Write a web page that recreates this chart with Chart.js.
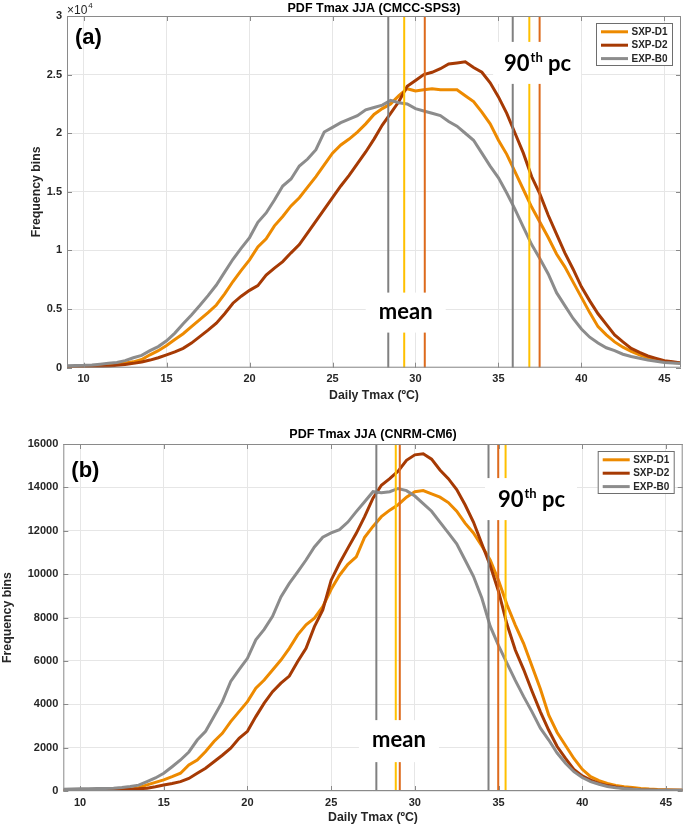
<!DOCTYPE html>
<html>
<head>
<meta charset="utf-8">
<script src="https://cdn.jsdelivr.net/npm/chart.js@4"></script>
<style>
  html, body { margin: 0; padding: 0; background: #fff; }
  #wrap { position: relative; width: 685px; height: 827px; }
  .panel { position: absolute; left: 0; width: 685px; }
  #panelA { top: 0; height: 403px; }
  #panelB { top: 403px; height: 424px; }
</style>
</head>
<body>
<div id="wrap">
  <div class="panel" id="panelA"><canvas id="chartA"></canvas></div>
  <div class="panel" id="panelB"><canvas id="chartB"></canvas></div>
</div>
<script>
// temperature bins (ºC)
const bins = [
  9, 9.5, 10, 10.5, 11, 11.5, 12, 12.5, 13, 13.5,
  14, 14.5, 15, 15.5, 16, 16.5, 17, 17.5, 18, 18.5,
  19, 19.5, 20, 20.5, 21, 21.5, 22, 22.5, 23, 23.5,
  24, 24.5, 25, 25.5, 26, 26.5, 27, 27.5, 28, 28.5,
  29, 29.5, 30, 30.5, 31, 31.5, 32, 32.5, 33, 33.5,
  34, 34.5, 35, 35.5, 36, 36.5, 37, 37.5, 38, 38.5,
  39, 39.5, 40, 40.5, 41, 41.5, 42, 42.5, 43, 43.5,
  44, 44.5, 45, 45.5, 46
];

// (a) CMCC-SPS3
const d1A = [
  50, 60, 80, 120, 170, 230, 300, 400, 500, 700,
  1100, 1450, 1900, 2400, 2900, 3500, 4100, 4700, 5350, 6300,
  7350, 8300, 9200, 10300, 11000, 12100, 12900, 13800, 14500, 15400,
  16300, 17300, 18300, 19000, 19500, 20100, 20800, 21600, 22100, 22500,
  23200, 23800, 23600, 23700, 23800, 23700, 23700, 23700, 23200, 22700,
  21800, 20800, 19400, 18200, 16700, 15200, 13700, 12400, 11100, 9700,
  8600, 7300, 6000, 4700, 3500, 2800, 2200, 1750, 1400, 1100,
  850, 700, 550, 450, 400
];
const d2A = [
  20, 30, 40, 60, 90, 130, 200, 280, 370, 480,
  650, 850, 1100, 1350, 1650, 2100, 2650, 3200, 3800, 4600,
  5500, 6100, 6600, 7000, 7900, 8500, 9050, 9800, 10500, 11500,
  12500, 13500, 14500, 15500, 16400, 17400, 18400, 19500, 20700, 21700,
  22700, 24000, 24500, 25000, 25200, 25500, 25900, 26000, 26100, 25600,
  25200, 24300, 23100, 21700, 20000, 18300, 16300, 14800, 13000, 11400,
  9800, 8400, 6900, 5700, 4600, 3700, 2800, 2200, 1650, 1300,
  1000, 800, 600, 500, 400
];
const b0A = [
  170, 180, 200, 240, 300, 370, 450, 600, 850, 1050,
  1450, 1800, 2300, 2950, 3750, 4500, 5300, 6150, 7050, 8150,
  9250, 10200, 11100, 12400, 13200, 14300, 15500, 16100, 17200, 17800,
  18600, 20100, 20500, 20900, 21200, 21500, 22000, 22200, 22400, 22800,
  22600, 22500, 22100, 21900, 21700, 21500, 21000, 20600, 20000, 19400,
  18300, 17200, 16200, 14900, 13500, 12000, 10500, 9300, 8000, 6400,
  5300, 4200, 3300, 2600, 2100, 1700, 1450, 1150, 950, 800,
  650, 550, 450, 400, 350
];
const meanA = [29.32, 30.56, 28.36];   // SXP-D1, SXP-D2, EXP-B0
const p90A = [36.86, 37.48, 35.86];

// (b) CNRM-CM6
const d1B = [
  20, 20, 20, 20, 20, 30, 40, 50, 70, 150,
  280, 400, 510, 660, 820, 1200, 1430, 1820, 2280, 2660,
  3200, 3660, 4120, 4740, 5120, 5580, 6040, 6580, 7200, 7660,
  7970, 8500, 9300, 9950, 10450, 10800, 11700, 12200, 12650, 12950,
  13200, 13550, 13800, 13850, 13700, 13550, 13300, 12900, 12350, 11900,
  11300, 10650, 9700, 8600, 7650, 6800, 5750, 4700, 3500, 2700,
  2100, 1500, 1000, 660, 480, 350, 260, 200, 160, 120,
  90, 70, 60, 50, 40
];
const d2B = [
  0, 0, 0, 10, 20, 30, 40, 60, 80, 100,
  130, 200, 280, 350, 430, 580, 820, 1050, 1350, 1650,
  1970, 2430, 2750, 3430, 4050, 4580, 4970, 5300, 5970, 6580,
  7580, 8350, 9720, 10500, 11200, 11880, 12650, 13500, 14100, 14400,
  14750, 15250, 15500, 15550, 15300, 14800, 14400, 13900, 13200, 12400,
  11400, 10400, 9200, 7700, 6500, 5600, 4600, 3650, 2800, 2050,
  1500, 1000, 700, 500, 350, 250, 180, 130, 90, 60,
  50, 40, 40, 40, 40
];
const b0B = [
  80, 90, 100, 100, 110, 120, 130, 160, 210, 270,
  430, 600, 820, 1120, 1430, 1800, 2350, 2750, 3430, 4120,
  5050, 5600, 6120, 6970, 7450, 8050, 8950, 9570, 10100, 10650,
  11250, 11700, 11900, 12050, 12400, 12880, 13340, 13800, 13750, 13800,
  13950, 13850, 13600, 13250, 12900, 12400, 11900, 11400, 10650, 9900,
  8900, 7600, 6700, 5900, 5100, 4350, 3650, 2900, 2350, 1750,
  1280, 890, 620, 430, 310, 210, 150, 110, 80, 60,
  50, 40, 40, 40, 40
];
const meanB = [28.86, 29.1, 27.7];
const p90B = [35.42, 34.98, 34.4];

const xTicks = [10, 15, 20, 25, 30, 35, 40, 45];
const yTicksA = [0, 5000, 10000, 15000, 20000, 25000, 30000];
const yTicksB = [0, 2000, 4000, 6000, 8000, 10000, 12000, 14000, 16000];

const seriesNames = ["SXP-D1", "SXP-D2", "EXP-B0"];
const curveColors = ["#ED8A00", "#A63A04", "#8C8C8C"];
const vlineColors = ["#FFC000", "#DD6A1C", "#808080"];

const sansFamily = "'Liberation Sans', Arial, sans-serif";
const tickFont = { family: sansFamily, size: 11, weight: "bold" };
const labelFont = { family: sansFamily, size: 12.3, weight: "bold" };
const frameColor = "#8a8a8a";
const textColor = "#262626";

// draws threshold lines, label boxes, legend and axes frame
const decor = {
    id: "decor",
    afterDatasetsDraw(chart, args, o) {
        const { ctx, chartArea: a } = chart;
        const x = chart.scales.x, y = chart.scales.y;
        ctx.save();

        ctx.save();
        ctx.beginPath();
        ctx.rect(a.left, a.top, a.right - a.left, a.bottom - a.top);
        ctx.clip();
        ctx.lineWidth = 2;
        [o.means, o.p90s].forEach(vals => vals.forEach((v, i) => {
            const px = x.getPixelForValue(v);
            ctx.strokeStyle = vlineColors[i];
            ctx.beginPath();
            ctx.moveTo(px, a.top);
            ctx.lineTo(px, a.bottom);
            ctx.stroke();
        }));

        // white label boxes
        o.labels.forEach(l => {
            const cx = x.getPixelForValue(l.x), cy = y.getPixelForValue(l.y);
            ctx.fillStyle = "#fff";
            ctx.fillRect(cx - l.w / 2, cy - l.h / 2, l.w, l.h);
            ctx.fillStyle = "#000";
            ctx.textBaseline = "alphabetic";
            const big = "bold 22px Lato, 'Open Sans', sans-serif";
            const small = "bold 13px Lato, 'Open Sans', sans-serif";
            if (l.sup) {
                ctx.font = big;
                const w1 = ctx.measureText(l.text).width;
                const w3 = ctx.measureText(l.after).width;
                ctx.font = small;
                const w2 = ctx.measureText(l.sup).width;
                const sx = cx - (w1 + w2 + w3) / 2;
                const base = cy + 8;
                ctx.font = big;
                ctx.textAlign = "left";
                ctx.fillText(l.text, sx, base);
                ctx.font = small;
                ctx.fillText(l.sup, sx + w1 + 1, base - 9);
                ctx.font = big;
                ctx.fillText(l.after, sx + w1 + w2 + 1, base);
            } else {
                ctx.font = big;
                ctx.textAlign = "center";
                ctx.fillText(l.text, cx, cy + 6);
            }
        });
        ctx.restore();

        // frame and inward ticks
        ctx.strokeStyle = frameColor;
        ctx.lineWidth = 1;
        ctx.strokeRect(a.left + 0.5, a.top + 0.5, a.right - a.left - 1, a.bottom - a.top - 1);
        ctx.beginPath();
        xTicks.forEach(v => {
            const px = Math.round(x.getPixelForValue(v)) + 0.5;
            ctx.moveTo(px, a.bottom); ctx.lineTo(px, a.bottom - 5);
            ctx.moveTo(px, a.top); ctx.lineTo(px, a.top + 5);
        });
        o.yTicks.forEach(v => {
            const py = Math.round(y.getPixelForValue(v)) + 0.5;
            ctx.moveTo(a.left, py); ctx.lineTo(a.left + 5, py);
            ctx.moveTo(a.right, py); ctx.lineTo(a.right - 5, py);
        });
        ctx.stroke();

        // legend
        const bw = 77, bh = 43;
        const bx = a.right - 8 - bw, by = a.top + 7;
        ctx.fillStyle = "#fff";
        ctx.fillRect(bx, by, bw, bh);
        ctx.strokeStyle = "#6e6e6e";
        ctx.strokeRect(bx + 0.5, by + 0.5, bw - 1, bh - 1);
        ctx.font = "bold 10px " + sansFamily;
        ctx.textAlign = "left";
        ctx.textBaseline = "middle";
        seriesNames.forEach((name, i) => {
            const ry = by + 8.8 + i * 13.4;
            ctx.strokeStyle = curveColors[i];
            ctx.lineWidth = 3;
            ctx.beginPath();
            ctx.moveTo(bx + 5, ry);
            ctx.lineTo(bx + 32, ry);
            ctx.stroke();
            ctx.fillStyle = textColor;
            ctx.fillText(name, bx + 35.5, ry + 0.5);
        });

        // panel tag
        ctx.fillStyle = "#000";
        ctx.font = "bold 22px " + sansFamily;
        ctx.textBaseline = "middle";
        ctx.fillText(o.tag, a.left + 8, a.top + o.tagY);

        // axis multiplier
        if (o.exponent) {
            ctx.fillStyle = textColor;
            ctx.textBaseline = "alphabetic";
            ctx.font = "12px " + sansFamily;
            ctx.fillText("\u00d710", a.left, a.top - 2);
            const w = ctx.measureText("\u00d710").width;
            ctx.font = "8px " + sansFamily;
            ctx.fillText(o.exponent, a.left + w + 1, a.top - 8);
        }
        ctx.restore();
    }
};

function buildChart(id, cfg) {
    const series = [cfg.d1, cfg.d2, cfg.b0];
    return new Chart(document.getElementById(id), {
        type: "line",
        data: {
            datasets: series.map((vals, i) => ({
                label: seriesNames[i],
                data: bins.map((b, k) => ({ x: b, y: vals[k] })),
                borderColor: curveColors[i],
                borderWidth: 3,
                pointRadius: 0,
                tension: 0,
                fill: false,
                order: 3 - i
            }))
        },
        options: {
            responsive: true,
            maintainAspectRatio: false,
            animation: false,
            layout: { padding: { top: 0, left: 0, right: cfg.padRight, bottom: 0 } },
            plugins: {
                legend: { display: false },
                tooltip: { enabled: false },
                title: {
                    display: true,
                    text: cfg.title,
                    fullSize: false,
                    color: "#000",
                    font: { family: sansFamily, size: 12.5, weight: "bold" },
                    padding: cfg.titlePad
                },
                decor: {
                    means: cfg.means,
                    p90s: cfg.p90s,
                    labels: cfg.labels,
                    yTicks: cfg.yTicks,
                    tag: cfg.tag,
                    tagY: cfg.tagY,
                    exponent: cfg.exponent
                }
            },
            scales: {
                x: {
                    type: "linear",
                    min: 9,
                    max: 46,
                    afterBuildTicks: s => { s.ticks = xTicks.map(v => ({ value: v })); },
                    afterFit: s => { s.height = cfg.xHeight; },
                    grid: { color: "#e6e6e6", drawTicks: false },
                    border: { display: false },
                    ticks: { color: textColor, font: tickFont, padding: 5, maxRotation: 0 },
                    title: {
                        display: true,
                        text: "Daily Tmax (ºC)",
                        color: textColor,
                        font: labelFont,
                        padding: { top: 0, bottom: cfg.xTitlePad }
                    }
                },
                y: {
                    min: 0,
                    max: cfg.yMax,
                    afterBuildTicks: s => { s.ticks = cfg.yTicks.map(v => ({ value: v })); },
                    afterFit: s => { s.width = cfg.yWidth; },
                    grid: { color: "#e6e6e6", drawTicks: false },
                    border: { display: false },
                    ticks: {
                        color: textColor,
                        font: tickFont,
                        padding: 5,
                        callback: v => cfg.exponent ? String(v / 10000) : String(v)
                    },
                    title: {
                        display: true,
                        text: "Frequency bins",
                        color: textColor,
                        font: labelFont,
                        padding: { top: cfg.yTitlePad, bottom: 0 }
                    }
                }
            }
        },
        plugins: [decor]
    });
}

buildChart("chartA", {
    d1: d1A, d2: d2A, b0: b0A,
    means: meanA, p90s: p90A,
    title: "PDF Tmax JJA (CMCC-SPS3)",
    titlePad: { top: 0.8, bottom: 0.2 },
    yMax: 30000, yTicks: yTicksA, exponent: "4",
    yWidth: 67, yTitlePad: 29.6, xHeight: 35.3, xTitlePad: 0, padRight: 4,
    tag: "(a)", tagY: 22,
    labels: [
        { text: "mean", x: 29.41, y: 4700, w: 80, h: 40 },
        { text: "90", sup: "th", after: " pc", x: 37.33, y: 26000, w: 88, h: 42 }
    ]
});

buildChart("chartB", {
    d1: d1B, d2: d2B, b0: b0B,
    means: meanB, p90s: p90B,
    title: "PDF Tmax JJA (CNRM-CM6)",
    titlePad: { top: 24.5, bottom: 1.5 },
    yMax: 16000, yTicks: yTicksB, exponent: null,
    yWidth: 63.3, yTitlePad: 0, xHeight: 36, xTitlePad: 1.6, padRight: 2.3,
    tag: "(b)", tagY: 27,
    labels: [
        { text: "mean", x: 29.05, y: 2300, w: 80, h: 42 },
        { text: "90", sup: "th", after: " pc", x: 36.94, y: 13460, w: 92, h: 42 }
    ]
});
</script>
</body>
</html>
